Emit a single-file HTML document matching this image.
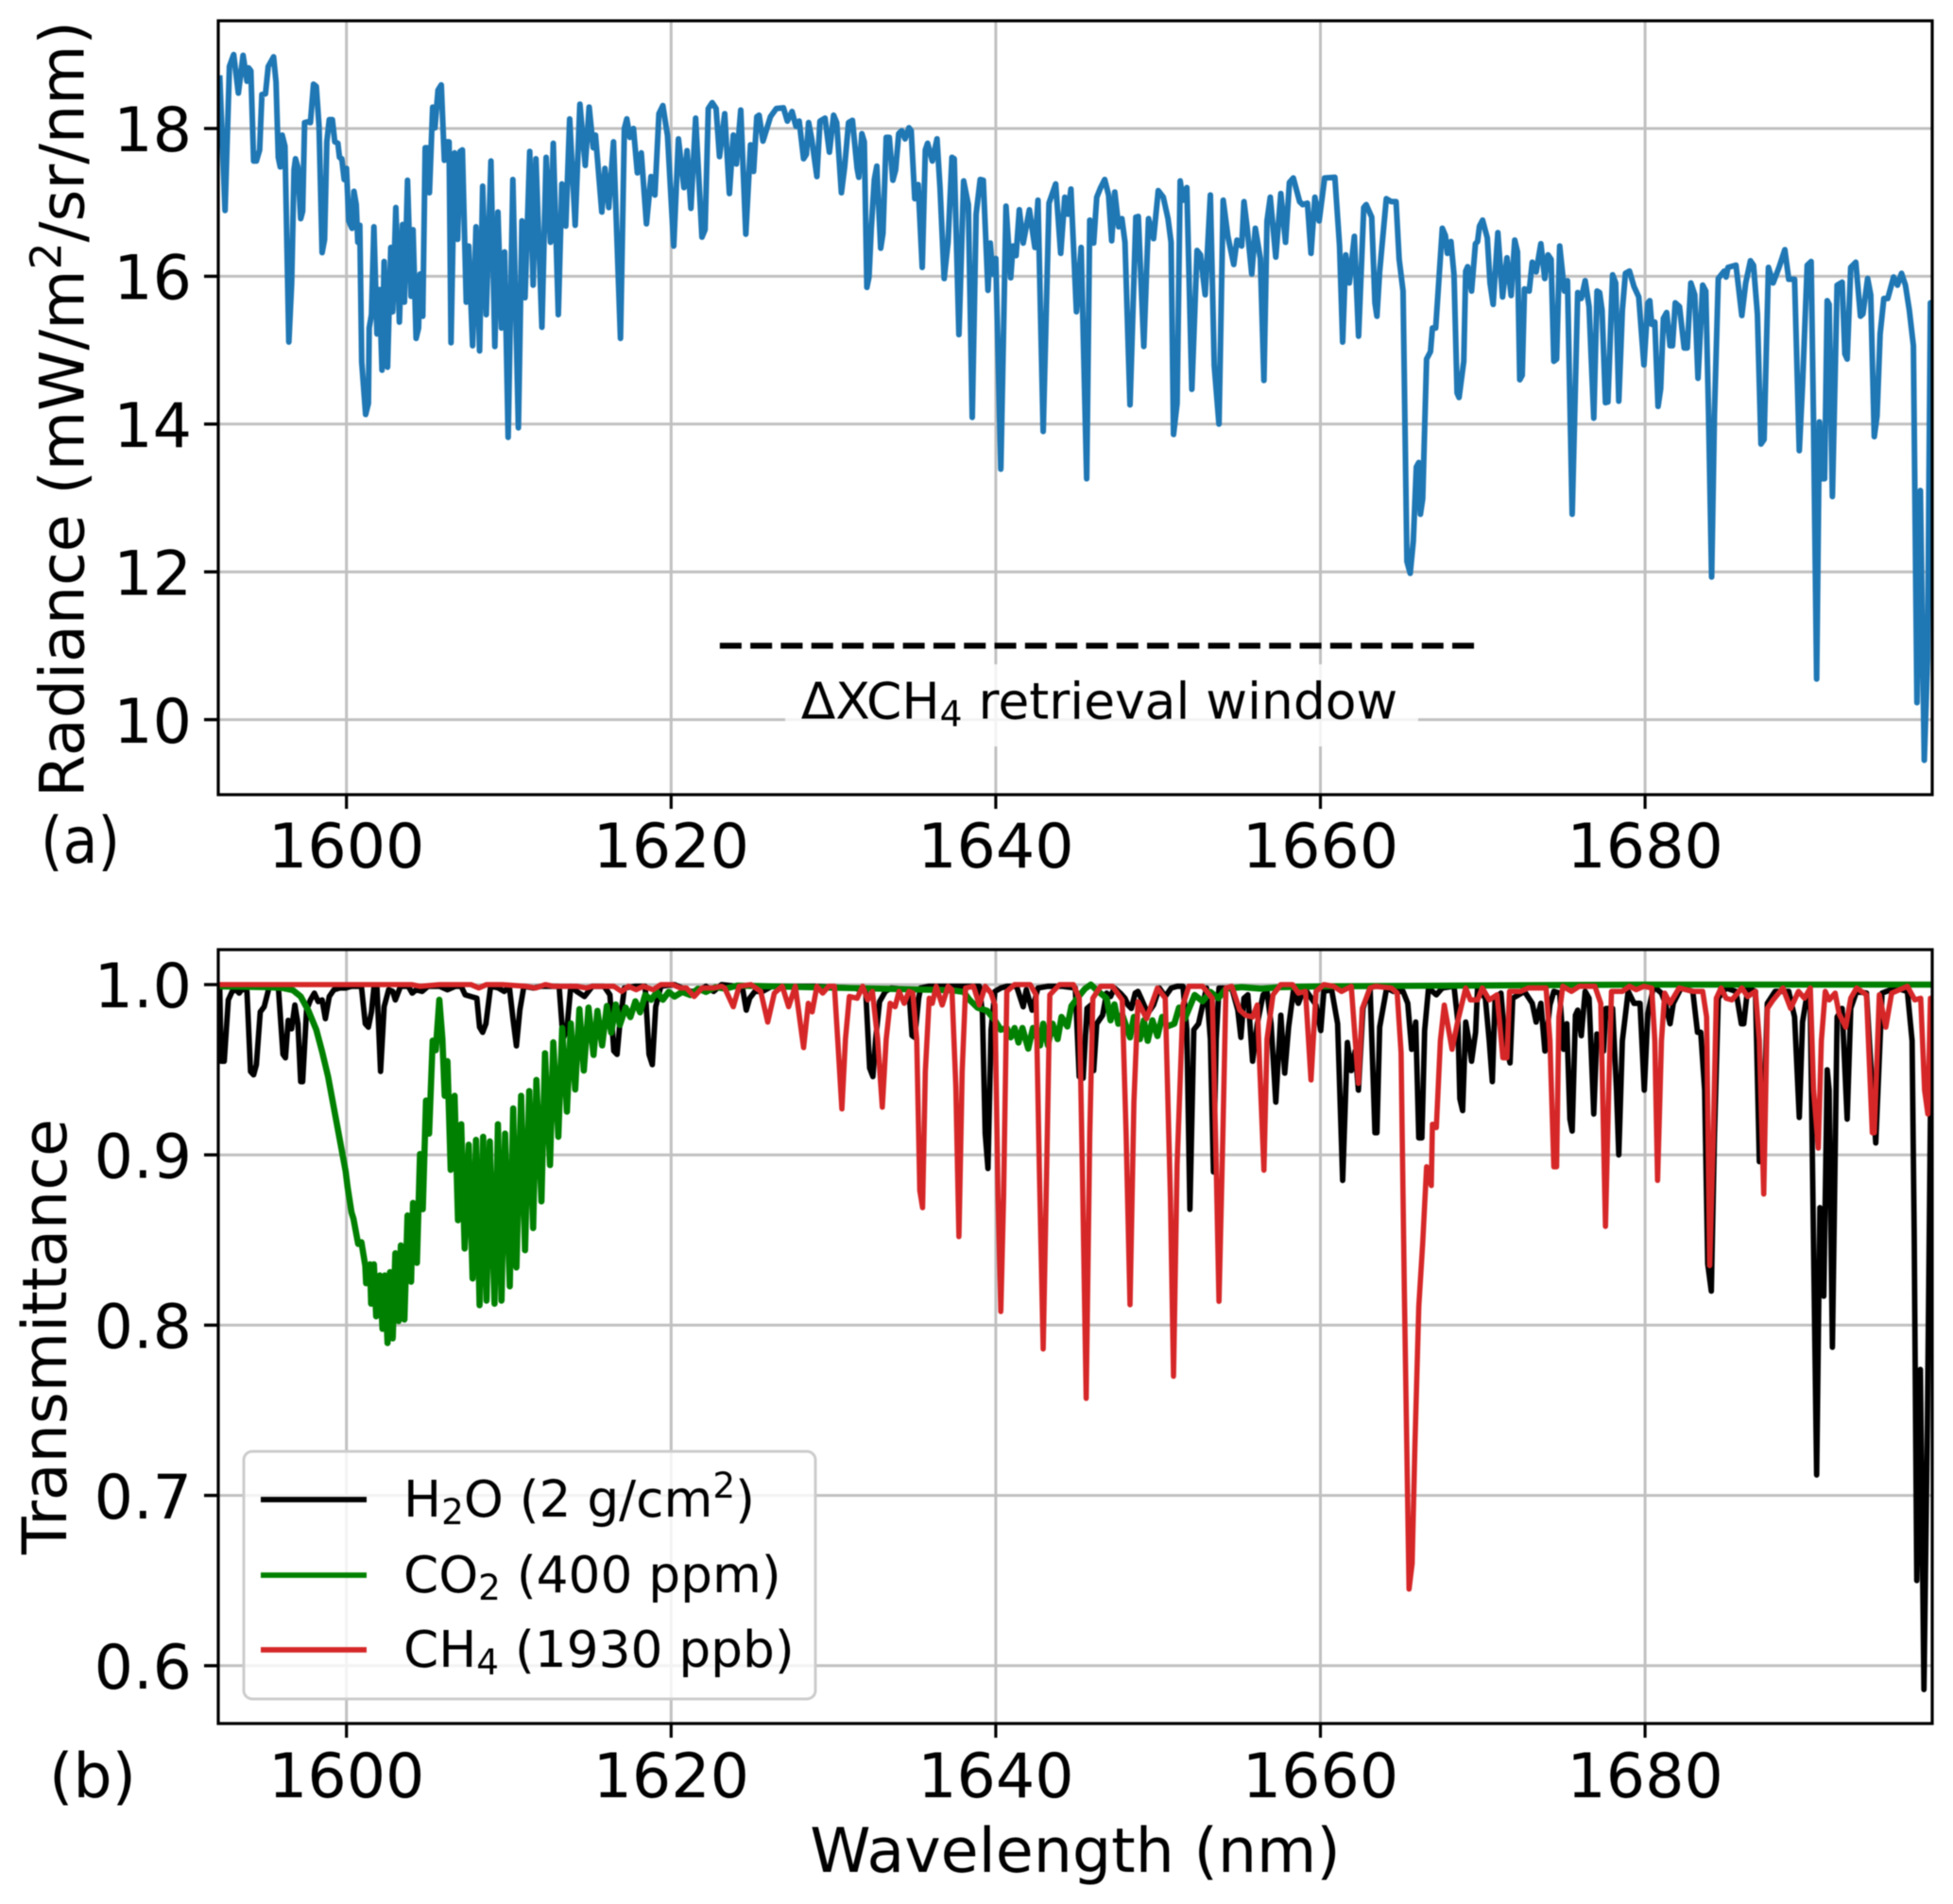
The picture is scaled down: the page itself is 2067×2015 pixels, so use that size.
<!DOCTYPE html>
<html lang="en">
<head>
<meta charset="utf-8">
<title>Radiance and transmittance spectra</title>
<style>
html,body{margin:0;padding:0;background:#fff;}
svg{display:block;filter:blur(0.45px);}
text{font-family:"DejaVu Sans","Liberation Sans",sans-serif;fill:#000;}
</style>
</head>
<body>
<svg id="figure" xmlns="http://www.w3.org/2000/svg" width="2067" height="2015" viewBox="0 0 2067 2015">
  <defs>
    <clipPath id="clip-top"><rect x="231" y="22" width="1814" height="819"/></clipPath>
    <clipPath id="clip-bottom"><rect x="231" y="1005" width="1814" height="819"/></clipPath>
    <clipPath id="clip-panel-a"><rect x="0" y="861" width="200" height="62"/></clipPath>
  </defs>
  <rect x="0" y="0" width="2067" height="2015" fill="#fff"/>
  <g id="top-grid"></g>
  <g id="bottom-grid"></g>
  <g id="top-series" clip-path="url(#clip-top)"></g>
  <g id="bottom-series" clip-path="url(#clip-bottom)"></g>

  <rect x="831" y="703" width="670" height="87" rx="8" fill="#fff" fill-opacity="0.8"/>
  <g id="window-marker"></g>
  <text x="1163.5" y="760.5" font-size="53.5" text-anchor="middle">ΔXCH<tspan font-size="37.5" dy="8">4</tspan><tspan dy="-8"> retrieval window</tspan></text>

  <rect x="258" y="1536" width="605" height="262" rx="9" fill="#fff" fill-opacity="0.8" stroke="#cccccc" stroke-width="3"/>
  <line x1="276" x2="388" y1="1587" y2="1587" stroke="#000000" stroke-width="5.8"/>
  <line x1="276" x2="388" y1="1667" y2="1667" stroke="#008000" stroke-width="5.8"/>
  <line x1="276" x2="388" y1="1746" y2="1746" stroke="#d62728" stroke-width="5.8"/>
  <text x="427" y="1605" font-size="53.3">H<tspan font-size="37.3" dy="8">2</tspan><tspan dy="-8">O (2 g/cm</tspan><tspan font-size="37.3" dy="-20">2</tspan><tspan dy="20">)</tspan></text>
  <text x="427" y="1685" font-size="53.3">CO<tspan font-size="37.3" dy="8">2</tspan><tspan dy="-8"> (400 ppm)</tspan></text>
  <text x="427" y="1764" font-size="53.3">CH<tspan font-size="37.3" dy="8">4</tspan><tspan dy="-8"> (1930 ppb)</tspan></text>

  <rect x="231" y="22" width="1814" height="819" fill="none" stroke="#000" stroke-width="3.2"/>
  <rect x="231" y="1005" width="1814" height="819" fill="none" stroke="#000" stroke-width="3.2"/>
  <g id="top-ticks"></g>
  <g id="bottom-ticks"></g>

  <text transform="translate(88.5 433) rotate(-90)" font-size="65" text-anchor="middle">Radiance (mW/m<tspan font-size="45.5" dy="-24">2</tspan><tspan dy="24">/sr/nm)</tspan></text>
  <text transform="translate(70 1414.5) rotate(-90)" font-size="65" text-anchor="middle">Transmittance</text>
  <text x="1138" y="1981" font-size="65" text-anchor="middle">Wavelength (nm)</text>
  <g clip-path="url(#clip-panel-a)">
    <text x="43" y="913" font-size="68" textLength="84" lengthAdjust="spacingAndGlyphs">(a)</text>
  </g>
  <text x="52" y="1902" font-size="65">(b)</text>
</svg>
<script>
const xTickValues = [1600, 1620, 1640, 1660, 1680];
const xTickLabels = ["1600", "1620", "1640", "1660", "1680"];
const radianceTickValues = [10, 12, 14, 16, 18];
const radianceTickLabels = ["10", "12", "14", "16", "18"];
const transmittanceTickValues = [0.6, 0.7, 0.8, 0.9, 1.0];
const transmittanceTickLabels = ["0.6", "0.7", "0.8", "0.9", "1.0"];
const retrievalWindowNm = [1623, 1670];
const retrievalWindowLevel = 11;

const radianceNm = [
1592.19,1592.52,1592.79,1593.05,1593.34,1593.63,1593.87,1593.97,1594.11,1594.28,1594.45,1594.65,1594.79,1595.01,1595.18,1595.51,1595.66,1595.80,1595.92,1596.04,1596.21,1596.45,1596.62,1596.77,1596.86,1597.0,1597.18,1597.3,1597.42,1597.61,1597.78,1597.97,1598.14,1598.31,1598.5,1598.65,1598.79,1598.94,1599.13,1599.28,1599.47,1599.57,1599.71,1599.86,1600,1600.14,1600.34,1600.46,1600.6,1600.7,1600.82,1600.94,1601.18,1601.35,1601.4,1601.54,1601.69,1601.88,1602.03,1602.19,1602.32,1602.53,1602.73,1602.85,1603.04,1603.26,1603.45,1603.57,1603.76,1603.98,1604.1,1604.29,1604.44,1604.53,1604.7,1604.85,1604.97,1605.11,1605.31,1605.45,1605.64,1605.84,1606.03,1606.17,1606.32,1606.44,1606.66,1606.85,1607.0,1607.14,1607.38,1607.53,1607.77,1607.98,1608.2,1608.39,1608.61,1608.9,1609.14,1609.33,1609.55,1609.74,1609.96,1610.25,1610.59,1610.81,1611,1611.29,1611.5,1611.67,1612.04,1612.3,1612.57,1612.74,1613.05,1613.27,1613.51,1613.75,1614.09,1614.38,1614.71,1614.95,1615.2,1615.34,1615.73,1615.92,1616.16,1616.45,1616.88,1617.12,1617.27,1617.46,1617.68,1617.92,1618.16,1618.48,1618.76,1619,1619.25,1619.49,1619.78,1620.16,1620.45,1620.79,1620.98,1621.22,1621.51,1621.9,1622.09,1622.29,1622.53,1622.77,1622.98,1623.3,1623.59,1623.83,1624.02,1624.29,1624.6,1624.89,1625.08,1625.28,1625.42,1625.66,1626.12,1626.48,1626.92,1627.16,1627.45,1627.69,1627.89,
1628.16,1628.33,1628.47,1628.66,1628.98,1629.17,1629.48,1629.75,1630.01,1630.2,1630.49,1630.69,1630.93,1631.17,1631.46,1631.56,1631.75,1631.9,1632.06,1632.19,1632.33,1632.52,1632.67,1632.91,1633.05,1633.25,1633.44,1633.66,1633.83,1634.02,1634.21,1634.41,1634.65,1634.79,1635.01,1635.22,1635.47,1635.66,1635.8,1636.09,1636.38,1636.57,1636.82,1637.06,1637.3,1637.44,1637.73,1638.02,1638.31,1638.55,1638.79,1639.04,1639.23,1639.52,1639.66,1639.81,1640,1640.31,1640.63,1640.92,1641.06,1641.25,1641.45,1641.69,1642.07,1642.41,1642.6,1642.92,1643.28,1643.69,1644,1644.25,1644.44,1644.63,1644.97,1645.26,1645.6,1645.79,1646.03,1646.22,1646.46,1646.71,1646.95,1647.14,1647.33,1647.57,1647.77,1647.96,1648.27,1648.63,1648.78,1649.12,1649.41,1649.72,1650.01,1650.32,1650.61,1650.8,1650.95,1651.17,1651.36,1651.53,1651.77,1652.08,1652.4,1652.61,1652.9,1653.22,1653.46,1653.75,1654.01,1654.3,1654.66,1654.86,1655.15,1655.29,1655.48,1655.77,1655.99,1656.3,1656.52,1656.71,1656.91,1657.25,1657.56,1657.85,1658.09,1658.33,1658.72,1658.91,1659.2,1659.42,1659.66,1659.92,1660.26,1660.89,1661.18,1661.37,1661.56,1661.78,1662.09,1662.35,1662.67,1662.82,
1663.16,1663.36,1663.48,1663.65,1664.06,1664.37,1664.66,1664.85,1665.09,1665.33,1665.53,1665.72,1665.91,1666.06,1666.16,1666.3,1666.54,1666.78,1666.9,1667.1,1667.51,1667.7,1667.82,1668.04,1668.23,1668.42,1668.54,1668.83,1668.95,1669.07,1669.31,1669.55,1669.68,1669.8,1669.99,1670.28,1670.45,1670.64,1670.93,1671.22,1671.49,1671.75,1671.97,1672.14,1672.28,1672.43,1672.57,1672.86,1673.05,1673.29,1673.58,1673.82,1674.02,1674.21,1674.38,1674.55,1674.74,1675.03,1675.22,1675.51,1675.85,1676.07,1676.31,1676.55,1676.84,1677.04,1677.2,1677.35,1677.56,1677.71,1678,1678.19,1678.38,1678.6,1678.79,1679.04,1679.32,1679.61,1679.93,1680.17,1680.29,1680.41,1680.6,1680.8,1680.96,1681.13,1681.33,1681.54,1681.69,1681.86,1682.12,1682.41,1682.6,1682.82,1683.06,1683.26,1683.55,1683.74,1683.91,1684.1,1684.27,1684.51,1684.87,1684.99,1685.11,1685.6,1685.96,1686.2,1686.49,1686.68,1686.92,1687.14,1687.33,1687.6,1687.89,1688.25,1688.61,1688.85,1689.21,1689.5,1689.7,1689.99,1690.23,1690.38,1690.57,1690.74,1690.91,1691.06,1691.22,1691.34,1691.54,1691.83,1692.14,1692.31,1692.45,1692.67,1692.98,1693.27,1693.42,1693.71,1693.9,1694.12,1694.29,1694.48,1694.71,1694.95,1695.31,1695.55,1695.8,1696.04,1696.28,1696.53,1696.75,1696.96,1697.2,1697.4,1697.58,1697.72
];
const radianceValues = [
18.72,16.89,18.84,19.0,18.48,18.99,18.64,18.82,18.78,17.56,17.56,17.71,18.46,18.47,18.84,18.97,18.63,17.61,17.48,17.91,17.76,15.11,15.9,17.44,17.59,17.48,16.78,16.88,18.08,18.09,18.08,18.6,18.57,18.03,16.32,16.5,17.82,18.12,18.12,17.82,17.8,17.61,17.59,17.31,17.46,16.75,16.65,17.15,16.97,16.46,16.69,14.84,14.13,14.28,15.3,15.48,16.67,15.22,15.82,14.73,16.2,14.77,16.39,15.52,16.93,15.38,16.7,15.65,17.3,15.73,16.63,15.16,15.3,16.03,15.46,17.74,17.74,17.13,18.29,18.01,18.52,18.59,17.57,17.82,17.82,15.1,17.67,16.5,17.69,17.71,15.65,16.41,15.06,16.67,14.99,17.22,15.48,17.56,15.05,16.87,15.3,16.33,13.82,17.31,13.95,16.75,15.71,17.69,15.88,17.59,15.31,17.61,16.46,17.8,15.48,17.25,16.68,18.13,16.69,18.33,17.5,18.29,17.74,17.91,16.87,17.46,16.93,17.82,15.16,18,18.13,17.88,18,17.4,17.67,16.71,17.35,17.1,18.2,18.31,17.9,16.41,17.86,17.2,17.7,16.92,18.14,16.53,16.63,18.27,18.35,18.27,17.62,18.2,17.12,17.91,17.52,18.25,16.57,17.78,17.42,18.16,18.18,17.83,18.16,18.27,18.28,18.1,18.23,18.03,18.1,
17.59,17.65,18.08,17.86,17.35,18.1,18.14,17.68,18.18,18.08,17.13,17.48,18.08,18.11,17.46,17.34,17.93,17.82,15.85,15.99,16.65,17.31,17.49,16.38,16.58,17.88,17.88,17.3,17.44,17.93,17.97,17.86,18.01,17.97,17.05,17.24,16.12,17.71,17.8,17.56,17.86,17.18,15.97,16.46,17.61,17.59,15.21,17.29,16.97,14.09,16.84,17.31,17.3,15.81,16.45,16.03,16.24,13.39,16.95,15.98,16.41,16.28,16.9,16.45,16.9,16.39,17.03,13.9,16.99,17.25,16.31,17.07,16.84,17.18,15.52,16.39,13.26,16.76,16.45,17.07,17.2,17.31,17.1,16.48,17.14,16.67,16.78,16.46,14.26,16.8,16.81,15.05,16.78,16.51,17.16,17.07,16.78,16.46,13.86,14.28,17.29,17.03,17.2,14.47,16.35,16.29,15.75,17.1,14.79,14.0,17.03,16.54,16.16,16.49,16.41,17.01,16.67,16.03,16.65,16.24,14.59,16.75,17.07,16.26,17.12,16.46,17.27,17.33,17.01,16.97,16.99,16.31,17.07,16.75,17.33,17.34,16.41,15.11,16.29,15.91,16.54,15.19,16.93,16.97,
16.8,15.64,15.46,16.07,17.05,17.01,17.01,16.23,15.8,12.14,11.98,12.41,13.42,13.48,12.78,12.99,14.88,14.98,15.3,15.3,16.65,16.55,16.31,16.47,16.02,14.42,14.36,14.85,16.07,16.13,15.8,16.44,16.47,16.68,16.76,16.52,15.91,15.62,16.59,15.72,16.25,15.74,16.49,16.33,14.6,14.66,15.83,15.8,16.19,16.06,16.44,15.97,16.29,16.23,14.85,14.88,16.41,15.8,15.94,12.78,15.78,15.7,15.94,15.59,14.08,15.8,15.78,15.54,14.29,14.3,16.02,15.91,14.31,15.54,16.04,16.07,15.86,15.72,14.8,15.64,15.67,15.35,15.38,14.24,14.48,15.43,15.51,15.06,15.06,15.64,15.59,15.03,15.03,15.91,15.75,14.62,15.88,15.8,14.16,11.93,14.11,15.97,16.07,15.99,16.12,16.15,15.47,15.91,16.21,16.15,15.49,13.73,13.79,16.12,15.91,16.12,16.36,15.96,15.96,13.64,14.53,16.15,16.2,14,10.55,14.03,13.26,13.26,15.67,15.62,13.02,15.88,15.92,14.95,14.88,16.12,16.19,15.46,15.49,15.97,15.75,13.83,14.11,15.22,15.7,15.7,15.99,15.88,16.04,15.88,15.54,15.06,10.23,13.1,9.45,10.82,15.64,15.65
];

const h2oNm = [
1592.1,1592.19,1592.28,1592.47,1592.72,1592.96,1593.2,1593.39,1593.63,1593.87,1594.09,1594.28,1594.45,1594.69,1594.93,1595.25,1595.8,1596.09,1596.24,1596.41,1596.62,1596.82,1597.01,1597.18,1597.3,1597.54,1597.78,1598.02,1598.26,1598.5,1598.7,1598.94,1599.23,1599.59,1599.95,1600.31,1600.92,1601.16,1601.35,1601.54,1601.69,1601.88,1602.1,1602.32,1602.6,1602.85,1603.01,1603.33,1603.81,1604.05,1604.29,1604.66,1605.02,1605.74,1606.22,1606.71,1607.07,1607.31,1607.67,1608.03,1608.2,1608.39,1608.59,1608.88,1609.36,1609.72,1610.03,1610.27,1610.47,1610.68,1610.93,1611.53,1612.01,1612.74,1613.1,1613.34,1613.58,1613.82,1614.18,1614.66,1615.15,1615.87,1616.23,1616.47,1616.67,1616.84,1617.12,1617.8,1618.4,1618.64,1618.84,1619.05,1619.37,1620.21,1620.69,1621.18,1621.66,1622.14,1622.62,1623.11,1624.07,1624.38,1624.63,1624.84,1625.16,1625.64,
1626.2,1628.86,1631.27,1631.99,1632.23,1632.43,1632.6,1632.84,1633.2,1633.56,1634.65,1634.84,1635.01,1635.25,1635.37,1635.85,1638.26,1638.99,1639.18,1639.35,1639.52,1639.71,1639.95,1640.31,1640.68,1641.28,1641.52,1641.69,1641.88,1642.24,1642.6,1643.21,1644.05,1644.9,1645.14,1645.38,1645.62,1645.86,1646.03,1646.22,1646.58,1646.83,1647.07,1647.31,1647.67,1647.96,1648.15,1648.35,1648.59,1648.76,1649,1649.36,1649.72,1650.08,1650.44,1650.81,1651.17,1651.53,1651.77,1651.96,1652.2,1652.49,1652.98,1653.22,1653.41,1653.58,1653.75,1654.54,1654.91,1655.1,1655.29,1655.53,1655.82,1656.11,1656.47,1656.71,1656.96,1657.25,1657.56,1657.8,1658.04,1658.33,1658.64,1659.01,1659.73,1660.02,1660.21,1660.69,1661.06,1661.37,1661.66,1661.9,1662.14,1662.34,1662.62,1663.06,
1663.36,1663.48,1663.65,1664.08,1664.49,1665.09,1665.38,1665.62,1665.87,1666.06,1666.25,1666.42,1666.66,1667.14,1667.51,1668.23,1668.47,1668.59,1668.76,1668.95,1669.15,1669.31,1669.56,1669.68,1670.16,1670.4,1670.59,1670.76,1671.12,1671.37,1671.68,1671.85,1672.57,1673.05,1673.29,1673.58,1673.83,1674.14,1674.38,1674.74,1674.98,1675.18,1675.37,1675.51,1675.71,1675.85,1676.07,1676.31,1676.55,1676.84,1677.03,1677.27,1677.44,1677.59,1678,1678.24,1678.38,1678.6,1678.96,1679.32,1679.69,1679.95,1680.17,1680.53,1681.01,1681.25,1681.54,1681.74,1682.22,1682.94,1683.23,1683.43,1683.67,1683.86,1684.08,1684.27,1684.51,1684.99,1685.6,1685.93,1686.08,1686.32,1686.8,1687.04,1687.28,1687.53,1688.01,1688.85,1689.21,1689.5,1689.7,1689.94,1690.18,1690.33,1690.57,1690.77,1691.01,1691.22,1691.34,1691.54,1691.83,1692.14,1692.45,1692.67,1693.03,1693.64,1694,1694.21,1694.6,1695.43,1696.16,1696.45,1696.58,1696.74,1696.96,1697.18,1697.39,1697.58,1697.7
];
const h2oValues = [
0.999,0.999,0.955,0.955,0.991,0.996,0.997,0.995,0.998,0.996,0.949,0.947,0.953,0.984,0.987,0.999,0.999,0.959,0.957,0.979,0.974,0.988,0.977,0.943,0.943,0.985,0.991,0.995,0.99,0.991,0.98,0.993,0.997,0.998,0.998,0.999,0.999,0.977,0.975,0.984,0.998,0.998,0.949,0.987,0.997,0.996,0.991,0.999,0.999,0.995,0.997,0.996,0.999,0.999,0.997,0.999,0.999,0.994,0.993,0.992,0.975,0.972,0.977,0.999,0.998,0.996,0.999,0.979,0.964,0.985,0.999,0.998,0.999,0.999,0.999,0.968,0.974,0.999,0.996,0.993,0.999,0.999,0.994,0.961,0.959,0.977,0.998,0.999,0.999,0.959,0.953,0.987,0.999,1,0.998,0.996,0.996,0.999,0.996,1,0.999,0.999,0.985,0.992,0.996,0.996,
0.999,0.999,0.998,0.996,0.951,0.946,0.968,0.99,0.996,0.998,0.997,0.97,0.969,0.992,0.998,0.999,0.999,0.999,0.983,0.9125,0.892,0.9735,0.996,0.998,0.999,0.999,0.992,0.987,0.997,0.985,0.998,0.999,0.999,0.998,0.946,0.945,0.986,0.988,0.9495,0.977,0.982,0.995,0.993,0.998,0.995,0.992,0.988,0.986,0.995,0.996,0.991,0.983,0.988,0.998,0.993,0.998,0.999,0.999,0.9735,0.868,0.9735,0.977,0.998,0.968,0.89,0.968,0.998,0.998,0.985,0.969,0.992,0.994,0.955,0.977,0.994,0.996,0.977,0.931,0.982,0.948,0.975,0.996,0.989,0.998,0.988,0.973,0.996,0.997,0.977,0.885,0.966,0.9495,0.961,0.938,0.986,0.998,
0.913,0.913,0.975,0.998,0.996,0.996,0.989,0.962,0.978,0.91,0.91,0.973,0.998,0.994,0.998,0.999,0.978,0.933,0.926,0.978,0.967,0.955,0.972,0.998,0.992,0.967,0.943,0.992,0.995,0.967,0.954,0.992,0.996,0.989,0.978,0.989,0.961,0.988,0.996,0.995,0.962,0.977,0.921,0.914,0.982,0.985,0.97,0.996,0.992,0.924,0.971,0.969,0.961,0.986,0.986,0.938,0.9,0.967,0.996,0.989,0.989,0.938,0.983,0.999,0.995,0.989,0.977,0.989,0.998,0.996,0.972,0.972,0.938,0.836,0.82,0.91,0.992,0.998,0.996,0.977,0.977,0.998,0.996,0.896,0.91,0.989,0.996,0.996,0.981,0.922,0.978,0.992,0.986,0.882,0.712,0.869,0.817,0.95,0.938,0.787,0.981,0.986,0.921,0.986,0.996,0.995,0.938,0.907,0.995,0.998,0.996,0.967,0.853,0.65,0.774,0.586,0.74,0.924,0.938
];

const co2Nm = [
1592.1,1595.13,1596.09,1596.7,1597.18,1597.66,1598.14,1598.5,1598.87,1599.23,1599.59,1599.95,1600.07,1600.31,1600.43,1600.72,1600.92,1601.16,1601.21,1601.45,1601.52,1601.69,1601.83,1602.05,1602.22,1602.36,1602.53,1602.68,1602.85,1603.01,1603.21,1603.35,1603.57,1603.76,1603.98,1604.1,1604.34,1604.53,1604.7,1604.9,1605.09,1605.31,1605.5,1605.72,1605.91,1606.05,1606.22,1606.42,1606.66,1606.87,1607.07,1607.28,1607.53,1607.77,1607.98,1608.2,1608.42,1608.63,1608.83,1609.12,1609.33,1609.55,1609.77,1610.06,1610.27,1610.47,1610.76,1611,1611.26,1611.5,1611.7,1612.01,1612.23,1612.54,1612.74,1613.05,1613.29,1613.58,1613.82,1614.09,1614.35,1614.62,1614.91,1615.22,1615.46,1615.75,1616.04,1616.31,1616.59,1616.84,1617.2,1617.49,1617.8,1618.09,1618.4,1618.77,1619.13,1619.49,1619.85,1620.21,1620.69,1621.18,1621.66,1622.14,1622.74,1623.35,1624.07,1637.3,
1638.02,1638.38,1638.87,1639.47,1639.95,1640.31,1640.68,1640.92,1641.16,1641.4,1641.64,1642,1642.29,1642.73,1642.92,1643.21,1643.5,1643.81,1644.05,1644.41,1644.66,1645.02,1645.5,1645.86,1646.22,1646.58,1646.83,1647.07,1647.31,1647.55,1647.79,1648.27,1648.51,1648.88,1649.12,1649.36,1649.65,1649.96,1650.25,1650.56,1651,1651.29,1651.65,1652.25,1652.74,1653.22,1653.71,1654.18,1655.15,1656.35,1657.56,1660.2,1670,1680,1697.78
];
const co2Values = [
0.999,0.9985,0.998,0.9967,0.993,0.9846,0.9735,0.9606,0.9458,0.9273,0.9088,0.8903,0.881,0.8662,0.8625,0.8477,0.8487,0.8348,0.8246,0.8357,0.8126,0.8357,0.8052,0.8292,0.7978,0.8292,0.7895,0.8311,0.7922,0.8422,0.8024,0.8468,0.8033,0.8644,0.8255,0.8718,0.8366,0.9005,0.8681,0.9319,0.9125,0.9671,0.9615,0.9911,0.968,0.9347,0.955,0.8912,0.9347,0.8616,0.918,0.845,0.906,0.8274,0.9088,0.8117,0.9106,0.8144,0.9079,0.8126,0.918,0.8144,0.9125,0.8228,0.9273,0.8339,0.9347,0.844,0.9375,0.857,0.944,0.8727,0.9597,0.894,0.9661,0.9106,0.9745,0.9254,0.9772,0.9384,0.9856,0.9495,0.9865,0.9587,0.9846,0.9643,0.9874,0.9717,0.9883,0.9763,0.9865,0.9809,0.9902,0.9837,0.9939,0.9911,0.9957,0.9911,0.9957,0.993,0.9957,0.9939,0.9976,0.9957,0.9985,0.9976,0.9994,0.9967,
0.9957,0.9911,0.9865,0.9846,0.979,0.9735,0.9745,0.969,0.9745,0.966,0.9745,0.9624,0.9745,0.9643,0.977,0.9643,0.977,0.968,0.981,0.9754,0.9874,0.992,0.9976,1,0.9967,0.9939,0.992,0.979,0.9884,0.977,0.9825,0.969,0.981,0.968,0.979,0.967,0.979,0.9698,0.981,0.9754,0.977,0.9865,0.98,0.9939,0.9902,0.9957,0.992,0.9976,0.9985,0.9976,0.9985,0.999,0.9995,1,1
];

const ch4Nm = [
1592.1,1604,1604.53,1605.74,1607.67,1608.15,1608.63,1609.6,1611.05,1611.65,1612.25,1612.74,1613.46,1614.18,1614.78,1615.15,1615.87,1616.47,1616.96,1617.37,1617.85,1618.28,1618.89,1619.37,1620.09,1620.57,1620.94,1621.42,1621.9,1622.62,1623.11,1623.3,1623.83,1624.19,1624.92,1625.52,1625.95,1626.36,1626.85,1627.24,1627.65,
1628.16,1628.45,1628.69,1628.98,1629.34,1629.7,1630.06,1630.26,1630.52,1630.74,1630.98,1631.46,1631.8,1632.11,1632.4,1632.72,1633.01,1633.25,1633.49,1633.8,1634.04,1634.36,1634.65,1634.89,1635.13,1635.32,1635.49,1635.66,1635.9,1636.09,1636.33,1636.7,1637.06,1637.3,1637.54,1637.73,1637.93,1638.14,1638.63,1638.99,1639.35,1639.71,1639.95,1640.14,1640.31,1640.48,1640.68,1641.16,1642.12,1642.48,1642.68,1642.92,1643.14,1643.33,1643.93,1644.78,1645.14,1645.33,1645.57,1645.79,1645.98,1646.46,1647.19,1647.79,1648.03,1648.27,1648.51,1648.76,1649.29,1649.96,1650.44,1650.76,1650.95,1651.17,1651.53,1651.89,1652.74,1653.34,1653.58,1653.75,1653.99,1654.18,1654.54,1655.03,1655.39,1655.82,1656.11,1656.35,1656.52,1656.71,1657.08,1657.56,1658.28,1658.64,1659.08,1659.42,1659.73,1660.21,1660.81,1661.3,1661.9,1662.14,1662.34,1662.58,1663.06,
1663.4,1664.37,1664.73,1664.97,1665.17,1665.46,1665.65,1665.82,1666.06,1666.3,1666.54,1666.83,1666.9,1667.14,1667.39,1667.63,1668.11,1668.47,1668.95,1669.24,1669.68,1669.97,1670.4,1670.88,1671.24,1671.49,1671.65,1672.33,1672.81,1673.9,1674.14,1674.38,1674.55,1674.69,1674.93,1675.47,1675.95,1676.91,1677.27,1677.56,1677.76,1677.93,1678.6,1679.04,1679.45,1679.93,1680.41,1680.6,1680.77,1681.01,1681.21,1681.54,1682.1,1682.94,1683.55,1683.79,1683.98,1684.2,1684.39,1684.68,1684.99,1685.35,1685.96,1686.32,1686.8,1687.04,1687.31,1687.53,1687.89,1688.49,1688.97,1689.45,1689.82,1690.18,1690.38,1690.67,1690.86,1691.1,1691.34,1691.71,1691.95,1692.36,1692.67,1693.03,1693.64,1694,1694.12,1694.43,1694.83,1695.19,1696.16,1696.62,1696.98,1697.22,1697.42,1697.58,1697.72
];
const ch4Values = [
1,1,0.999,1,1,0.998,1,1,0.999,0.998,1,0.999,0.999,0.999,0.998,0.999,0.999,0.999,0.996,0.999,0.997,0.999,0.997,1,1,0.998,0.998,0.993,0.998,0.998,0.999,0.998,0.987,0.999,1,0.996,0.978,0.995,0.999,0.987,0.999,
0.963,0.989,0.984,0.999,0.995,0.999,0.999,0.968,0.927,0.968,0.993,0.992,0.999,0.991,0.996,0.968,0.928,0.968,0.989,0.987,0.996,0.989,0.996,0.995,0.968,0.879,0.869,0.949,0.992,0.989,0.999,0.988,0.999,0.997,0.94,0.852,0.949,0.998,0.999,0.988,0.999,0.995,0.988,0.875,0.808,0.875,0.996,1,1,0.994,0.894,0.786,0.894,0.994,1,1,0.992,0.894,0.757,0.912,0.992,0.999,0.999,0.991,0.912,0.812,0.931,0.99,0.98,0.998,0.992,0.875,0.77,0.894,0.988,0.999,0.999,0.992,0.894,0.814,0.912,0.998,0.999,0.985,0.982,0.981,0.988,0.931,0.891,0.968,0.994,1,1,0.995,0.996,0.944,0.996,1,0.999,0.996,0.999,0.968,0.942,0.986,0.998,
0.999,0.998,0.995,0.96,0.82,0.645,0.66,0.729,0.811,0.848,0.893,0.882,0.918,0.916,0.967,0.988,0.962,0.979,0.998,0.991,0.991,0.998,0.991,0.994,0.957,0.957,0.996,0.996,0.998,0.998,0.967,0.893,0.893,0.981,0.999,0.996,0.999,0.999,0.989,0.858,0.938,0.996,0.996,0.999,0.997,0.999,0.998,0.967,0.885,0.967,0.995,0.989,0.998,0.996,0.996,0.981,0.835,0.91,0.992,0.998,0.992,0.991,0.998,0.993,0.996,0.967,0.877,0.986,0.991,0.998,0.986,0.996,0.992,0.998,0.938,0.904,0.967,0.996,0.991,0.995,0.983,0.975,0.992,0.998,0.994,0.913,0.913,0.994,0.975,0.995,0.999,0.991,0.992,0.938,0.924,0.992,0.99
];

const SVG_NS = "http://www.w3.org/2000/svg";
const xScale = function (nm) { return 366.7 + (nm - 1600) * 17.18; };
const yRadiance = function (v) { return 136 + (18 - v) * 78.2; };
const yTransmittance = function (v) { return 1042 + (1 - v) * 1802; };

function linePath(xs, ys, yScale) {
  let d = "";
  for (let i = 0; i < xs.length; i++) {
    d += (i === 0 ? "M" : "L") + xScale(xs[i]).toFixed(2) + " " + yScale(ys[i]).toFixed(2);
  }
  return d;
}

function drawSeries(parentId, name, xs, ys, yScale, colour, width) {
  const el = document.createElementNS(SVG_NS, "path");
  
  
  el.setAttribute("d", linePath(xs, ys, yScale));
  el.setAttribute("fill", "none");
  el.setAttribute("stroke", colour);
  el.setAttribute("stroke-width", width);
  el.setAttribute("stroke-linejoin", "round");
  document.getElementById(parentId).appendChild(el);
}

function drawLine(parent, name, x1, y1, x2, y2, colour, width) {
  const el = document.createElementNS(SVG_NS, "line");
  
  
  el.setAttribute("x1", x1);
  el.setAttribute("y1", y1);
  el.setAttribute("x2", x2);
  el.setAttribute("y2", y2);
  el.setAttribute("stroke", colour);
  el.setAttribute("stroke-width", width);
  parent.appendChild(el);
}

function drawLabel(parent, name, x, y, anchor, content) {
  const el = document.createElementNS(SVG_NS, "text");
  
  
  el.setAttribute("x", x);
  el.setAttribute("y", y);
  el.setAttribute("font-size", "65");
  el.setAttribute("text-anchor", anchor);
  el.textContent = content;
  parent.appendChild(el);
}

function drawAxes(gridId, tickId, top, bottom, yScale, yValues, yLabels, prefix, xLabelBaseline) {
  const grid = document.getElementById(gridId);
  const ticks = document.getElementById(tickId);
  xTickValues.forEach(function (v, i) {
    const x = xScale(v);
    drawLine(grid, prefix + "-x-gridline", x, top, x, bottom, "#c0c0c0", 3);
    drawLine(ticks, prefix + "-x-tick", x, bottom, x, bottom + 15, "#000", 3.2);
    drawLabel(ticks, prefix + "-x-tick-label", x, xLabelBaseline, "middle", xTickLabels[i]);
  });
  yValues.forEach(function (v, i) {
    const y = yScale(v);
    drawLine(grid, prefix + "-y-gridline", 231, y, 2045, y, "#c0c0c0", 3);
    drawLine(ticks, prefix + "-y-tick", 216, y, 231, y, "#000", 3.4);
    drawLabel(ticks, prefix + "-y-tick-label", 203, y + 24.2, "end", yLabels[i]);
  });
}

drawAxes("top-grid", "top-ticks", 22, 841, yRadiance, radianceTickValues, radianceTickLabels, "radiance", 918);
drawAxes("bottom-grid", "bottom-ticks", 1005, 1824, yTransmittance, transmittanceTickValues, transmittanceTickLabels, "transmittance", 1902);

drawSeries("top-series", "radiance-line", radianceNm, radianceValues, yRadiance, "#1f77b4", 6);
drawSeries("bottom-series", "h2o-line", h2oNm, h2oValues, yTransmittance, "#000000", 5.8);
drawSeries("bottom-series", "co2-line", co2Nm, co2Values, yTransmittance, "#008000", 6.6);
drawSeries("bottom-series", "ch4-line", ch4Nm, ch4Values, yTransmittance, "#d62728", 5.6);

const marker = document.createElementNS(SVG_NS, "line");


marker.setAttribute("x1", xScale(retrievalWindowNm[0]));
marker.setAttribute("x2", xScale(retrievalWindowNm[1]));
marker.setAttribute("y1", yRadiance(retrievalWindowLevel));
marker.setAttribute("y2", yRadiance(retrievalWindowLevel));
marker.setAttribute("stroke", "#000");
marker.setAttribute("stroke-width", "6.2");
marker.setAttribute("stroke-dasharray", "23 9.3");
document.getElementById("window-marker").appendChild(marker);
</script>
</body>
</html>
